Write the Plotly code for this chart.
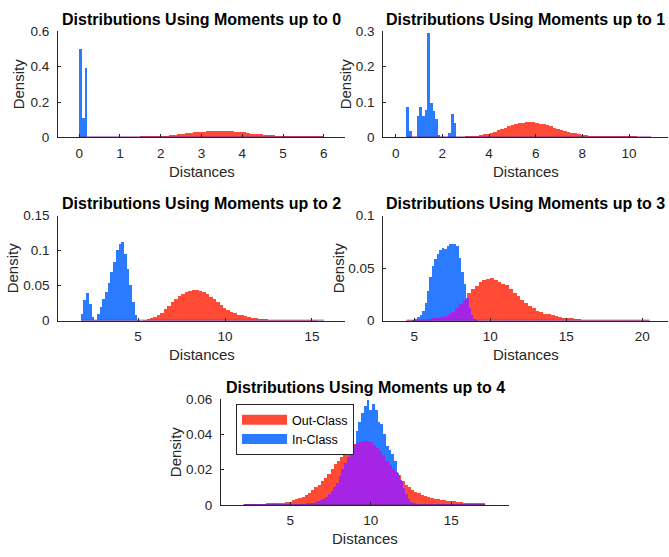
import numpy as np
import plotly.graph_objects as go

W, H = 669, 557

# ---------------- data (bin start, bin width, heights) ----------------
titles = ["Distributions Using Moments up to 0", "Distributions Using Moments up to 1",
          "Distributions Using Moments up to 2", "Distributions Using Moments up to 3",
          "Distributions Using Moments up to 4"]

# Moments up to 0
out0_start, out0_width = 1.5, 0.1
out0 = [.001, .001, .002, .003, .004, .006, .008, .010, .012, .015, .018, .021, .024, .027, .029,
        .031, .032, .033, .034, .034, .034, .033, .032, .030, .028, .026, .023, .020, .018, .015,
        .013, .011, .009, .007, .006, .005, .004, .003, .002, .002, .001, .001, .001, .0005, .0005]
in0_start, in0_width = 0.0, 0.065
in0 = [0.50, 0.11, 0.39]

# Moments up to 1
out1_start, out1_width = 3.0, 0.15
out1 = [.0014, .002, .0028, .004, .0054, .0073, .0097, .0122, .0152, .0187, .0223, .026, .0299,
        .0335, .0365, .039, .0408, .0418, .042, .0413, .040, .0382, .036, .0332, .0303, .027,
        .0238, .0207, .0178, .015, .0124, .0101, .0082, .0065, .0051, .0039, .003, .0022, .0017,
        .0013, .001, .0008, .0006, .0005, .0004, .0003, .0003, .0002, .0002, .0001, .0001, .0001,
        .0001]
in1_start, in1_width = 0.47, 0.1125
in1 = [0.085, 0.018, 0, 0, 0.059, 0.085, 0.061, 0.077, 0.294, 0.096, 0.073, 0.050, 0.006,
       0, 0, 0, 0.011, 0.064, 0.039]

# Moments up to 2
out2_start, out2_width = 5.3, 0.2
out2 = [.002, .003, .004, .006, .009, .012, .017, .022, .027, .032, .036, .038, .041, .043, .045,
        .045, .043, .042, .039, .035, .031, .027, .023, .019, .016, .013, .011, .009, .008, .0068,
        .0058, .005, .0042, .0035, .003, .0025, .002, .0017, .0014, .0012, .001, .0008, .0007,
        .0006, .0005, .0004, .0003, .0003, .0002, .0002, .0001, .0001]
in2_start, in2_width = 1.72, 0.155
in2 = [0.010, 0.030, 0.040, 0.025, 0.006, 0.002, 0.010, 0.020, 0.032, 0.042, 0.054, 0.070,
       0.084, 0.102, 0.110, 0.113, 0.096, 0.075, 0.052, 0.027, 0.008, 0.001]

# Moments up to 3
out3_start, out3_width = 4.5, 0.25
out3 = [.0002, .0003, .0004, .0006, .0009, .0013, .0018, .0025, .0032, .004, .005, .0068, .0088,
        .012, .016, .020, .027, .031, .033, .037, .039, .040, .041, .039, .037, .035, .034, .031,
        .027, .024, .020, .017, .0145, .012, .010, .0085, .0072, .0063, .0055, .0047, .004,
        .0034, .0029, .0025, .0021, .0017, .0014, .0012, .001, .0008, .0007, .0006, .0005, .0004,
        .0003, .0003, .0002, .0002, .0002, .0001, .0001, .0001, .0001, .0001]
in3_start, in3_width = 4.9, 0.16
in3 = [.001, .002, .004, .006, .010, .017, .029, .042, .052, .059, .064, .068, .070, .069, .071,
       .073, .073, .073, .071, .060, .047, .035, .022, .012, .006, .002, .001]

# Moments up to 4
out4_start, out4_width = 2.1, 0.2
out4 = [.0001, .0001, .0001, .0001, .0002, .0002, .0002, .0003, .0004, .0005, .0006, .0008, .001,
        .0012, .0015, .0024, .003, .0037, .0045, .0055, .0065, .008, .0098, .011, .0132, .015,
        .0175, .020, .023, .025, .027, .0285, .0295, .0295, .0345, .035, .0356, .036, .0363,
        .0355, .034, .032, .0304, .028, .025, .0225, .0203, .0185, .0166, .0135, .0112, .0098,
        .0085, .0072, .0063, .0056, .005, .0043, .0038, .0034, .003, .0028, .0025, .0021, .0019,
        .0017, .0014, .0012, .001, .0009, .0007, .0006, .0005, .0004, .0003]
in4_start, in4_width = 6.0, 0.17
in4 = [.0005, .0007, .001, .0014, .0018, .0024, .0032, .0045, .006, .0078, .0098, .0125, .016,
       .020, .0238, .027, .030, .034, .042, .047, .052, .056, .0595, .054, .057, .0535, .047,
       .046, .040, .033, .031, .029, .025, .018, .014, .0095, .006, .003, .0015, .0005]

out_series = [(out0_start, out0_width, out0), (out1_start, out1_width, out1),
              (out2_start, out2_width, out2), (out3_start, out3_width, out3),
              (out4_start, out4_width, out4)]
in_series = [(in0_start, in0_width, in0), (in1_start, in1_width, in1),
             (in2_start, in2_width, in2), (in3_start, in3_width, in3),
             (in4_start, in4_width, in4)]

x_ranges = [[-0.52, 6.52], [-0.53, 11.67], [0.41, 16.9], [2.96, 21.7], [0.7, 18.6]]
y_ranges = [[0, 0.6], [0, 0.3], [0, 0.15], [0, 0.1], [0, 0.06]]
x_ticks = [[0, 1, 2, 3, 4, 5, 6], [0, 2, 4, 6, 8, 10], [5, 10, 15], [5, 10, 15, 20], [5, 10, 15]]
y_ticks = [[0, 0.2, 0.4, 0.6], [0, 0.1, 0.2, 0.3], [0, 0.05, 0.1, 0.15], [0, 0.05, 0.1],
           [0, 0.02, 0.04, 0.06]]
y_ticktext = [["0", "0.2", "0.4", "0.6"], ["0", "0.1", "0.2", "0.3"], ["0", "0.05", "0.1", "0.15"],
              ["0", "0.05", "0.1"], ["0", "0.02", "0.04", "0.06"]]

RED, BLUE, PURPLE = "#ff4b36", "#2a7bff", "#a624e4"
AX = "#262626"
FONT = "Liberation Sans, Arial, sans-serif"

# pixel boxes of the axes (left, right, top, bottom)
boxes = [(58, 345, 25, 134), (383.3, 668, 25, 134), (58.3, 345, 214.3, 322.3),
         (383.3, 668, 214.3, 322.3), (221, 509.3, 403.3, 511.7)]


def edges(start, width, n):
    return start + width * np.arange(n + 1)


def step_value(x, start, width, vals):
    i = int(np.floor((x - start) / width))
    return vals[i] if 0 <= i < len(vals) else 0.0


fig = go.Figure()

for k in range(5):
    xa = "x" if k == 0 else f"x{k+1}"
    ya = "y" if k == 0 else f"y{k+1}"
    os_, ow, ov = out_series[k]
    is_, iw, iv = in_series[k]
    oe = edges(os_, ow, len(ov))
    ie = edges(is_, iw, len(iv))
    fig.add_trace(go.Bar(x=(oe[:-1] + oe[1:]) / 2, y=ov, width=[ow] * len(ov),
                         marker=dict(color=RED, line=dict(width=0)), xaxis=xa, yaxis=ya,
                         name="Out-Class", showlegend=False))
    fig.add_trace(go.Bar(x=(ie[:-1] + ie[1:]) / 2, y=iv, width=[iw] * len(iv),
                         marker=dict(color=BLUE, line=dict(width=0)), xaxis=xa, yaxis=ya,
                         name="In-Class", showlegend=False))
    # overlap region (minimum of both histograms)
    allv = np.unique(np.concatenate([oe, ie]))
    mids = (allv[:-1] + allv[1:]) / 2
    wid = np.diff(allv)
    ov_min = np.array([min(step_value(m, os_, ow, ov), step_value(m, is_, iw, iv)) for m in mids])
    keep = ov_min > 0
    if keep.any():
        fig.add_trace(go.Bar(x=mids[keep], y=ov_min[keep], width=wid[keep],
                             marker=dict(color=PURPLE, line=dict(width=0)), xaxis=xa, yaxis=ya,
                             showlegend=False))
    lo = min(oe[0], ie[0])
    hi = max(oe[-1], ie[-1])
    fig.add_trace(go.Scatter(x=[lo, hi], y=[0, 0], mode="lines",
                             line=dict(color="#7a2a9a", width=1.6), xaxis=xa, yaxis=ya,
                             showlegend=False, hoverinfo="skip"))

# legend entries
fig.add_trace(go.Scatter(x=[None], y=[None], mode="lines", line=dict(color=RED, width=13),
                         name="Out-Class", xaxis="x5", yaxis="y5"))
fig.add_trace(go.Scatter(x=[None], y=[None], mode="lines", line=dict(color=BLUE, width=13),
                         name="In-Class", xaxis="x5", yaxis="y5"))

layout = dict(width=W, height=H, margin=dict(l=0, r=0, t=0, b=0), barmode="overlay",
              bargap=0, plot_bgcolor="white", paper_bgcolor="white",
              font=dict(family=FONT, size=13, color=AX))
annotations = []
for k in range(5):
    l, r, t, b = boxes[k]
    xs = "xaxis" if k == 0 else f"xaxis{k+1}"
    ys = "yaxis" if k == 0 else f"yaxis{k+1}"
    ya = "y" if k == 0 else f"y{k+1}"
    xa = "x" if k == 0 else f"x{k+1}"
    layout[xs] = dict(domain=[l / W, r / W], range=x_ranges[k], anchor=ya, tickvals=x_ticks[k],
                      ticks="inside", ticklen=3, tickcolor=AX, showline=True, linecolor=AX,
                      linewidth=1, showgrid=False, zeroline=False,
                      tickfont=dict(size=13.5, color=AX), ticklabelstandoff=3, fixedrange=True)
    layout[ys] = dict(domain=[1 - b / H, 1 - t / H], range=y_ranges[k], anchor=xa,
                      tickvals=y_ticks[k], ticktext=y_ticktext[k], ticks="inside", ticklen=3,
                      tickcolor=AX, showline=True, linecolor=AX, linewidth=1, showgrid=False,
                      zeroline=False, tickfont=dict(size=13.5, color=AX), ticklabelstandoff=5,
                      fixedrange=True)
    annotations.append(dict(text=f"<b>{titles[k]}</b>", x=(l + r) / 2 / W, y=1 - (t - 12.5) / H,
                            xref="paper", yref="paper", showarrow=False, xanchor="center",
                            yanchor="middle", font=dict(size=16, color="#000000", family=FONT)))
    annotations.append(dict(text="Distances", x=(l + r) / 2 / W, y=1 - (b + 35) / H,
                            xref="paper", yref="paper", showarrow=False, xanchor="center",
                            yanchor="middle", font=dict(size=15, color=AX, family=FONT)))
ylab_x = [18, 345, 12.3, 338.3, 175]
for k in range(5):
    l, r, t, b = boxes[k]
    annotations.append(dict(text="Density", x=ylab_x[k] / W, y=1 - (t + b) / 2 / H,
                            xref="paper", yref="paper", showarrow=False, textangle=-90,
                            xanchor="center", yanchor="middle",
                            font=dict(size=15, color=AX, family=FONT)))
layout["annotations"] = annotations
layout["legend"] = dict(x=236 / W, y=1 - 408 / H, xanchor="left", yanchor="top",
                        bordercolor=AX, borderwidth=1, bgcolor="white",
                        font=dict(size=12.5, color="#000000", family=FONT), itemwidth=45,
                        tracegroupgap=0)
layout["showlegend"] = True
fig.update_layout(**layout)

fig.write_html("out.html")
